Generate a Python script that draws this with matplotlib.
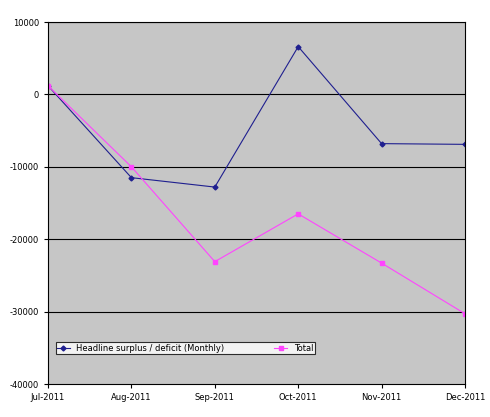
import matplotlib
matplotlib.use("Agg")
import matplotlib.pyplot as plt

months = ["Jul-2011", "Aug-2011", "Sep-2011", "Oct-2011", "Nov-2011", "Dec-2011"]
headline = [1200, -11500, -12800, 6600, -6800, -6900]
total = [1200, -10000, -23100, -16500, -23300, -30300]

plt.rcParams['axes.unicode_minus'] = False
fig = plt.figure(figsize=(4.90, 4.17), dpi=100)
ax = fig.add_axes([48/490, 1-384/417, (465-48)/490, (384-22)/417])
ax.set_facecolor("#C6C6C6")
x = range(len(months))
ax.plot(x, headline, color="#1F1F8F", lw=0.8, marker="D", ms=2.5, label="Headline surplus / deficit (Monthly)")
ax.plot(x, total, color="#FF44FF", lw=0.8, marker="s", ms=2.5, label="Total")
ax.set_ylim(-40000, 10000)
ax.set_xlim(0, len(months)-1)
ax.set_yticks(range(-40000, 10001, 10000))
ax.set_xticks(list(x))
ax.set_xticklabels(months)
ax.tick_params(labelsize=6, length=3)
for y in range(-30000, 10001, 10000):
    ax.axhline(y, color="black", lw=0.8, zorder=0.5)
for s in ax.spines.values():
    s.set_linewidth(0.8)
leg = ax.legend(loc="lower left", bbox_to_anchor=(0.008, 0.07), ncol=2, fontsize=6,
                frameon=True, fancybox=False, edgecolor="black", facecolor="white",
                borderpad=0.2, handlelength=1.5, columnspacing=6)
leg.get_frame().set_linewidth(0.8)
fig.savefig("out.png", dpi=100)
